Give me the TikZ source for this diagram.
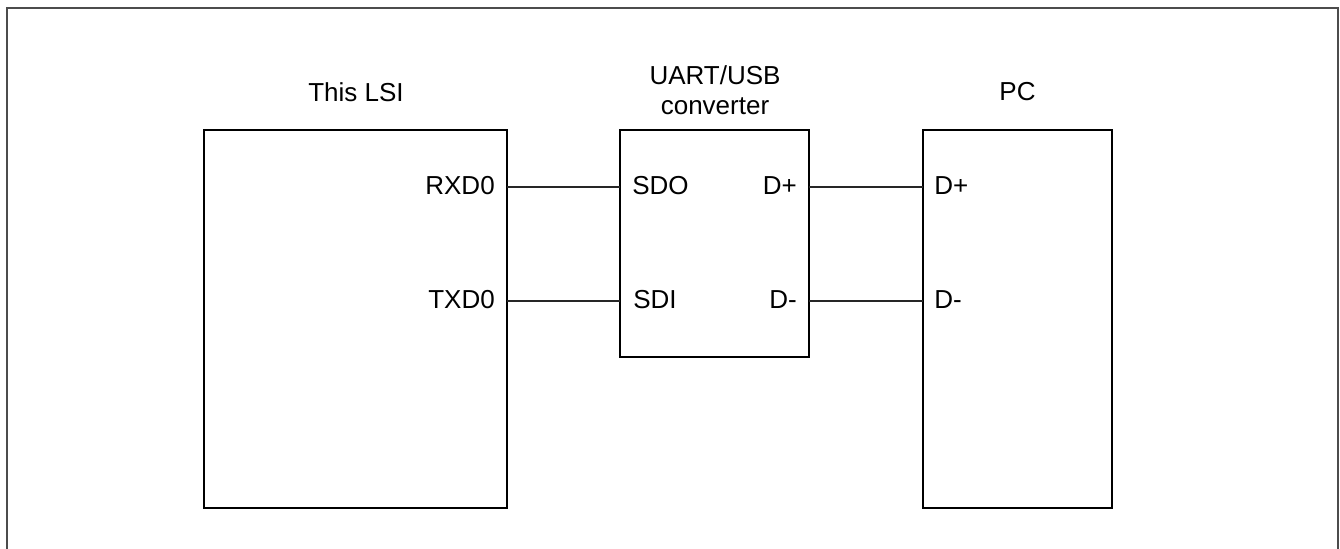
\documentclass[tikz,border=0pt]{standalone}
\usepackage{fontspec}
\setmainfont{Liberation Sans}
\begin{document}
\begin{tikzpicture}[x=0.75pt,y=-0.75pt,
  blk/.style={draw=black,line width=1.1pt,minimum width=#1,inner sep=0pt,outer sep=0pt},
  lbl/.style={font=\fontsize{19.5pt}{22pt}\selectfont,inner sep=0pt},
  wire/.style={draw=black!85,line width=0.8pt},
  frame/.style={draw=black!70,line width=1pt}]
\useasboundingbox (0,0) rectangle (1340,549);
\draw[frame] (7,549) -- (7,8) -- (1338,8) -- (1338,549);
% blocks
\node[blk=227.25pt,minimum height=283.5pt] (lsi) at (355.5,319) {};
\node[blk=141.75pt,minimum height=170.25pt] (conv) at (714.5,243.5) {};
\node[blk=141.75pt,minimum height=283.5pt] (pc) at (1017.5,319) {};
% titles
\node[lbl,anchor=base] (tlsi) at (356,102) {This LSI};
\node[lbl,anchor=base] (tconv1) at (715,85) {UART/USB};
\node[lbl,anchor=base] (tconv2) at (715,115) {converter};
\node[lbl,anchor=base] (tpc) at (1017.5,101) {PC};
% pin labels
\node[lbl,anchor=base east] (rxd) at (495,195) {RXD0};
\node[lbl,anchor=base east] (txd) at (495,309) {TXD0};
\node[lbl,anchor=base west] (sdo) at (632,195) {SDO};
\node[lbl,anchor=base west] (sdi) at (633,309) {SDI};
\node[lbl,anchor=base east] (dp) at (797,195) {D+};
\node[lbl,anchor=base east] (dm) at (797,309) {D-};
\node[lbl,anchor=base west] (pdp) at (934,195) {D+};
\node[lbl,anchor=base west] (pdm) at (934,309) {D-};
% wires
\draw[wire] (lsi.east |- 0,187) -- (conv.west |- 0,187);
\draw[wire] (lsi.east |- 0,301) -- (conv.west |- 0,301);
\draw[wire] (conv.east |- 0,187) -- (pc.west |- 0,187);
\draw[wire] (conv.east |- 0,301) -- (pc.west |- 0,301);
\end{tikzpicture}
\end{document}
